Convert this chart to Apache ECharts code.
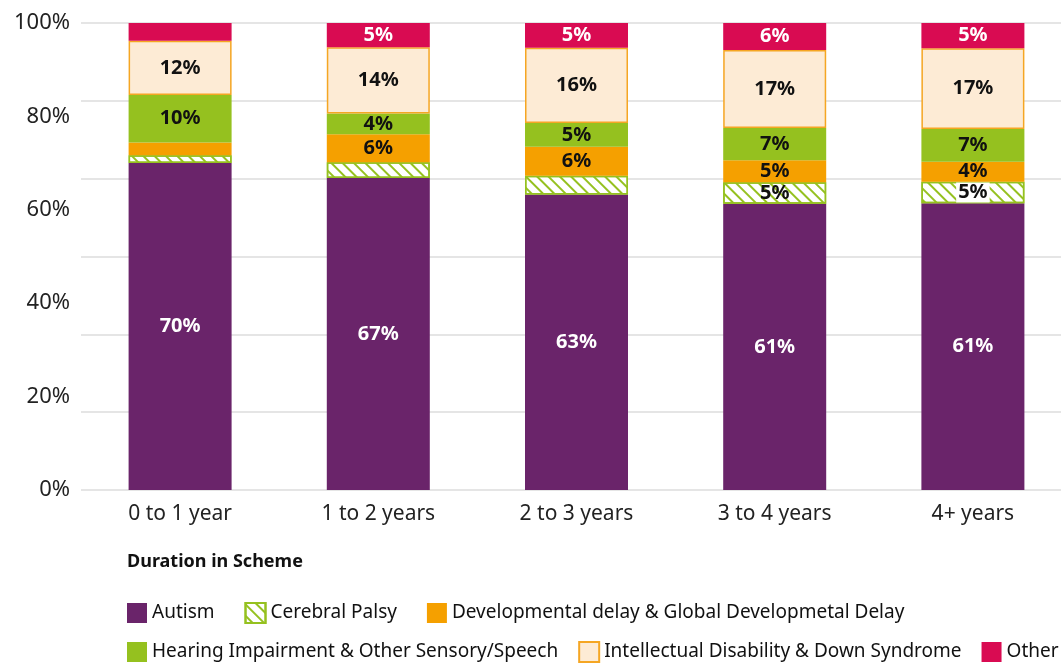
<!DOCTYPE html>
<html>
<head>
<meta charset="utf-8">
<title>Duration in Scheme</title>
<script src="https://cdn.jsdelivr.net/npm/echarts@6/dist/echarts.min.js"></script>
<style>
    html, body { margin: 0; padding: 0; background: #fff; }
    #chart { width: 1061px; height: 664px; }
</style>
</head>
<body>
<div id="chart"></div>
<script>
// --- DATA ---
const categories = ['0 to 1 year', '1 to 2 years', '2 to 3 years', '3 to 4 years', '4+ years'];
const yTicks = [0, 20, 40, 60, 80, 100];

const autism = [70.0, 66.8, 63.3, 61.3, 61.4];
const cerebralPalsy = [1.7, 3.4, 4.0, 4.6, 4.6];
const devDelay = [2.7, 6.0, 6.2, 4.7, 4.3];
const hearing = [10.2, 4.4, 5.1, 6.9, 7.0];
const intellectual = [11.6, 14.2, 16.1, 16.7, 17.3];
const other = [3.8, 5.2, 5.3, 5.8, 5.4];

const seriesNames = [
    'Autism',
    'Cerebral Palsy',
    'Developmental delay & Global Developmetal Delay',
    'Hearing Impairment & Other Sensory/Speech',
    'Intellectual Disability & Down Syndrome',
    'Other'
];

const FONT = '"Noto Sans", sans-serif';

// small segments carry no label
const pctLabel = (p) => p.value >= 4.2 ? Math.round(p.value) + '%' : '';

const makeSeries = (name, values, style, labelColor, extra = {}) => ({
    name,
    type: 'bar',
    stack: 'total',
    barWidth: 103,
    data: values,
    itemStyle: style,
    label: {
        show: true,
        position: 'inside',
        formatter: pctLabel,
        color: labelColor,
        fontFamily: FONT,
        fontWeight: 'bold',
        fontSize: 20
    },
    emphasis: { disabled: true },
    ...extra
});

const legendText = { fontFamily: FONT, fontSize: 19, color: '#111' };

const chart = echarts.init(document.getElementById('chart'));

chart.setOption({
    animation: false,
    title: {
        text: 'Duration in Scheme',
        left: 122,
        top: 548,
        textStyle: { fontFamily: FONT, fontSize: 18, fontWeight: 'bold', color: '#111' }
    },
    legend: [
        {
            data: seriesNames.slice(0, 3),
            left: 127, top: 602, padding: 0,
            icon: 'rect',
            itemWidth: 20, itemHeight: 20, itemGap: 30,
            textStyle: legendText
        },
        {
            data: seriesNames.slice(3),
            left: 127, top: 641, padding: 0,
            icon: 'rect',
            itemWidth: 20, itemHeight: 20, itemGap: 20,
            textStyle: legendText
        }
    ],
    grid: { left: 81, top: 23, width: 991, bottom: 174, outerBoundsMode: 'none', containLabel: false },
    xAxis: {
        type: 'category',
        data: categories,
        axisLine: { show: false },
        axisTick: { show: false },
        axisLabel: { fontFamily: FONT, fontSize: 21, color: '#222', margin: 14 }
    },
    yAxis: [
        {
            type: 'value',
            min: yTicks[0],
            max: yTicks[yTicks.length - 1],
            interval: yTicks[1] - yTicks[0],
            splitLine: { show: false },
            axisLabel: { formatter: '{value}%', fontFamily: FONT, fontSize: 22, color: '#222', margin: 11 }
        },
        {
            // the gridlines run at sixths, not at the labelled ticks
            type: 'value',
            min: 0,
            max: 100,
            interval: 100 / 6,
            position: 'left',
            axisLabel: { show: false },
            axisLine: { show: false },
            axisTick: { show: false },
            splitLine: { lineStyle: { color: '#dcdcdc', width: 1.5 } }
        }
    ],
    series: [
        makeSeries(seriesNames[0], autism, { color: '#6A246A' }, '#fff'),
        makeSeries(seriesNames[1], cerebralPalsy.map((v, i) => i === 4
            ? { value: v, label: { backgroundColor: '#fff', padding: [0, 2] } }
            : v), {
            color: '#fff',
            borderColor: '#95C11F',
            borderWidth: 1.5,
            decal: {
                symbol: 'rect',
                symbolSize: 1,
                color: '#95C11F',
                dashArrayX: [1, 0],
                dashArrayY: [2, 6],
                rotation: Math.PI / 4
            }
        }, '#111'),
        makeSeries(seriesNames[2], devDelay, { color: '#F5A000' }, '#111'),
        makeSeries(seriesNames[3], hearing, { color: '#95C11F' }, '#111'),
        makeSeries(seriesNames[4], intellectual, { color: '#FDEBD5', borderColor: '#F5A623', borderWidth: 1.5 }, '#111'),
        makeSeries(seriesNames[5], other, { color: '#D90B52' }, '#fff')
    ]
});
</script>
</body>
</html>
